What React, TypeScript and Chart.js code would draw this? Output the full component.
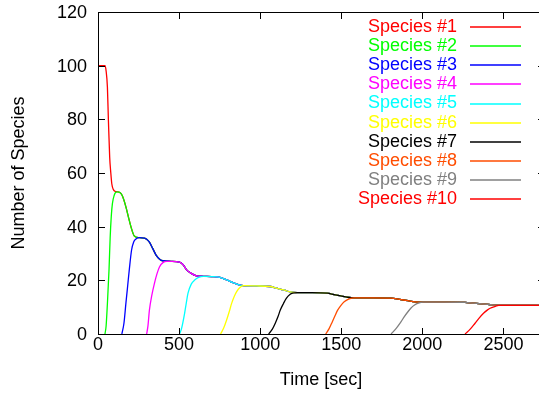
import { useEffect, useRef } from "react";
import { Chart, registerables } from "chart.js";

Chart.register(...registerables);

const FONT_FAMILY = '"Liberation Sans", Arial, Helvetica, sans-serif';
const FONT = `18px ${FONT_FAMILY}`;

const speciesLabels = [
  "Species #1",
  "Species #2",
  "Species #3",
  "Species #4",
  "Species #5",
  "Species #6",
  "Species #7",
  "Species #8",
  "Species #9",
  "Species #10",
];

const speciesColors = [
  "#ff0000",
  "#00ff00",
  "#0000ff",
  "#ff00ff",
  "#00ffff",
  "#ffff00",
  "#000000",
  "#ff4d00",
  "#808080",
  "#ff0000",
];

const xTickValues = [0, 500, 1000, 1500, 2000, 2500];
const yTickValues = [0, 20, 40, 60, 80, 100, 120];
const xTitle = "Time [sec]";
const yTitle = "Number of Species";

// Common population curve that every established species follows
const sharedTimes = [
  120, 135, 150, 172, 190, 203, 224, 255, 286, 300, 317, 338, 358, 380, 400, 450,
  503, 525, 545, 575, 607, 650, 700, 752, 793, 834, 870, 896, 980, 1062, 1100,
  1145, 1185, 1228, 1320, 1414, 1455, 1497, 1540, 1580, 1700, 1807, 1860, 1911,
  1955, 2004, 2130, 2263, 2315, 2367, 2420, 2470, 2600, 2750,
];
const sharedCounts = [
  53, 52.7, 51.5, 47.4, 43, 40, 36.5, 35.9, 35.7, 35.3, 34.2, 31.8, 29.4, 27.9,
  27.3, 27.1, 26.8, 25.8, 24, 22.6, 21.7, 21.5, 21.4, 21.1, 20.2, 19.1, 18.3, 18,
  17.9, 17.7, 17.1, 16.4, 15.7, 15.4, 15.4, 15.2, 14.7, 14.2, 13.7, 13.5, 13.5,
  13.4, 12.9, 12.4, 12.0, 11.9, 11.9, 11.8, 11.5, 11.2, 10.9, 10.7, 10.7, 10.7,
];

// Arrival phase of each species before it joins the common curve
const arrivalTimes = [
  [0, 1, 43, 50, 58, 64, 72, 79, 85, 95, 108],
  [43, 50, 58, 68, 75, 82, 89, 100, 110],
  [147, 160, 172, 183, 193, 207, 220, 234],
  [300, 308, 317, 332, 348, 364, 379, 400, 425],
  [503, 515, 534, 545, 555, 575, 596, 620],
  [756, 775, 793, 810, 824, 840, 855, 875],
  [1052, 1075, 1093, 1110, 1124, 1143, 1161, 1185, 1200],
  [1404, 1425, 1445, 1460, 1476, 1497, 1518, 1545],
  [1807, 1840, 1869, 1890, 1911, 1930, 1952, 1975],
  [2263, 2295, 2325, 2350, 2377, 2400, 2418, 2450],
];
const arrivalCounts = [
  [0, 100, 100, 98, 92, 80, 66, 60, 56, 53.8, 53.1],
  [0, 3, 11.4, 24, 36, 44, 48.7, 51.7, 52.8],
  [0, 4, 11.4, 18, 24, 31.3, 34.3, 35.4],
  [0, 3, 8.9, 14.5, 18.9, 22.5, 25, 26.6, 27.1],
  [0, 2, 7.7, 11.8, 15.2, 18.6, 20.1, 21.1],
  [0, 2.2, 5.2, 8.5, 11.4, 14, 15.8, 17.3],
  [0, 1.8, 4, 6.5, 8.9, 11.3, 13.3, 14.8, 15.2],
  [0, 2, 4.6, 6.6, 8.7, 10.6, 12, 13],
  [0, 2.2, 4.6, 6.6, 8.3, 9.7, 10.8, 11.5],
  [0, 1.8, 4, 5.9, 7.7, 8.9, 9.6, 10.3],
];
// Time from which each species sits on the common curve
const joinTimes = [120, 120, 255, 450, 650, 896, 1228, 1580, 2004, 2470];

function buildSeries(i: number) {
  const pts: { x: number; y: number }[] = [];
  arrivalTimes[i].forEach((t, k) => pts.push({ x: t, y: arrivalCounts[i][k] }));
  sharedTimes.forEach((t, k) => {
    if (t >= joinTimes[i]) pts.push({ x: t, y: sharedCounts[k] });
  });
  return pts;
}

const TICK_LEN = 6;

function strokeSegment(ctx: CanvasRenderingContext2D, x1: number, y1: number, x2: number, y2: number) {
  ctx.beginPath();
  ctx.moveTo(x1, y1);
  ctx.lineTo(x2, y2);
  ctx.stroke();
}

// Tick labels and axis titles outside the plot area
const labelPlugin = {
  id: "axisLabels",
  beforeDatasetsDraw(chart: any) {
    const ctx: CanvasRenderingContext2D = chart.ctx;
    const area = chart.chartArea;
    const xs = chart.scales.x;
    const ys = chart.scales.y;
    ctx.save();
    ctx.fillStyle = "#000000";
    ctx.font = FONT;
    ctx.textBaseline = "middle";
    ctx.textAlign = "right";
    yTickValues.forEach((v) => {
      ctx.fillText(String(v), area.left - 11, ys.getPixelForValue(v) + 1);
    });
    ctx.textAlign = "center";
    xTickValues.forEach((v) => {
      ctx.fillText(String(v), xs.getPixelForValue(v), area.bottom + 11.5);
    });
    ctx.fillText(xTitle, (area.left + area.right) / 2, area.bottom + 46);
    ctx.translate(19.5, (area.top + area.bottom) / 2);
    ctx.rotate(-Math.PI / 2);
    ctx.fillText(yTitle, 0, 0);
    ctx.restore();
  },
};

// gnuplot-like frame (full border, inward ticks on all four sides)
// and the key, drawn once everything else is on the canvas
const frameAndKeyPlugin = {
  id: "frameAndKey",
  afterDraw(chart: any) {
    const ctx: CanvasRenderingContext2D = chart.ctx;
    const area = chart.chartArea;
    const xs = chart.scales.x;
    const ys = chart.scales.y;
    const l = Math.round(area.left);
    const t = Math.round(area.top);
    const b = Math.round(area.bottom);
    const r = Math.round(area.right);
    ctx.save();
    ctx.setTransform(1, 0, 0, 1, 0, 0);
    ctx.globalAlpha = 1;
    ctx.globalCompositeOperation = "source-over";
    ctx.fillStyle = "#000000";
    ctx.fillRect(l, t, r - l + 1, 1);
    ctx.fillRect(l, b, r - l + 1, 1);
    ctx.fillRect(l, t, 1, b - t + 1);
    ctx.fillRect(r, t, 1, b - t + 1);
    xTickValues.forEach((v) => {
      const px = Math.round(xs.getPixelForValue(v));
      ctx.fillRect(px, b - TICK_LEN, 1, TICK_LEN);
      ctx.fillRect(px, t + 1, 1, TICK_LEN);
    });
    yTickValues.forEach((v) => {
      const py = Math.round(ys.getPixelForValue(v));
      ctx.fillRect(l + 1, py, TICK_LEN, 1);
      ctx.fillRect(r - TICK_LEN, py, TICK_LEN, 1);
    });

    const textRight = 457;
    const lineStart = 470;
    const lineEnd = 521;
    const firstRow = 26.7;
    const rowStep = 19.2;
    ctx.font = FONT;
    ctx.textAlign = "right";
    ctx.textBaseline = "middle";
    ctx.lineWidth = 1.3;
    speciesLabels.forEach((label, i) => {
      const y = firstRow + i * rowStep;
      ctx.fillStyle = speciesColors[i];
      ctx.fillText(label, textRight, y);
      ctx.strokeStyle = speciesColors[i];
      strokeSegment(ctx, lineStart, Math.round(y), lineEnd, Math.round(y));
    });
    ctx.restore();
  },
};

export default function App() {
  const canvasRef = useRef<HTMLCanvasElement | null>(null);

  useEffect(() => {
    if (!canvasRef.current) return;
    const chart = new Chart(canvasRef.current, {
      type: "line",
      data: {
        datasets: speciesLabels.map((label, i) => ({
          label,
          data: buildSeries(i),
          borderColor: speciesColors[i],
          backgroundColor: speciesColors[i],
          borderWidth: 1.3,
          pointRadius: 0,
          fill: false,
          cubicInterpolationMode: "monotone" as const,
          order: speciesLabels.length - i,
        })),
      },
      options: {
        animation: false,
        responsive: false,
        devicePixelRatio: 1,
        events: [],
        layout: { padding: { top: 12, right: 16, left: 98, bottom: 64 } },
        plugins: {
          legend: { display: false },
          tooltip: { enabled: false },
        },
        scales: {
          x: { type: "linear", display: false, min: 0, max: 2750 },
          y: { type: "linear", display: false, min: 0, max: 120 },
        },
      },
      plugins: [labelPlugin, frameAndKeyPlugin],
    });
    return () => chart.destroy();
  }, []);

  return (
    <div
      style={{
        position: "fixed",
        left: 0,
        top: 0,
        width: 539,
        height: 398,
        overflow: "hidden",
        background: "#fff",
      }}
    >
      <canvas ref={canvasRef} width={560} height={398} style={{ display: "block" }} />
    </div>
  );
}
